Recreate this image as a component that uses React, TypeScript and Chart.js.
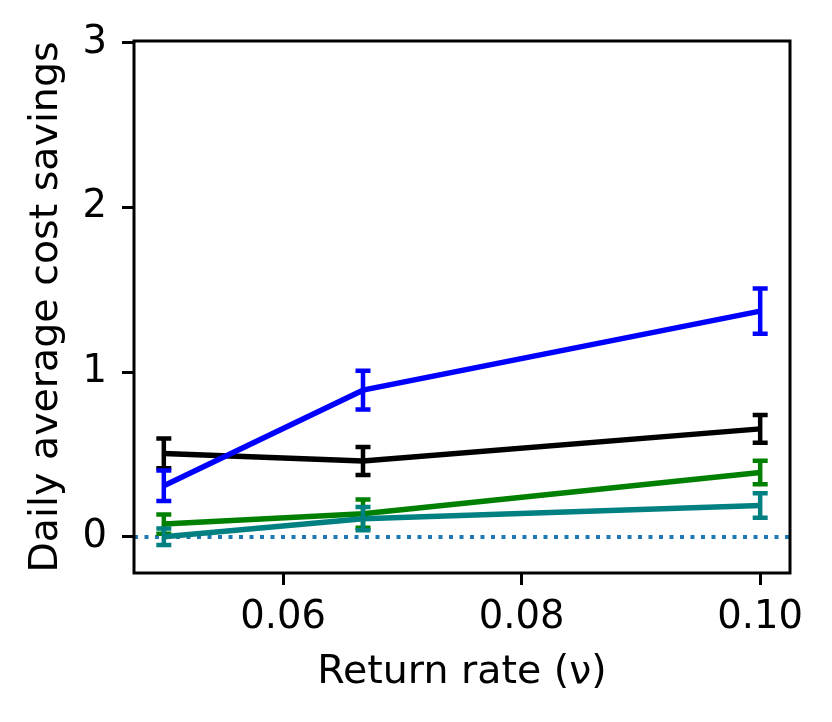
import { useEffect, useRef } from 'react';
import { Chart, ChartConfiguration, Plugin, registerables } from 'chart.js';

Chart.register(...registerables);

// return rates on the x axis
const RETURN_RATES = [0.05, 0.0667, 0.1];

// mean daily savings and error bar half-widths per policy
const BLUE_MEAN = [0.31, 0.89, 1.37];
const BLUE_ERR = [0.093, 0.118, 0.137];
const BLACK_MEAN = [0.506, 0.46, 0.655];
const BLACK_ERR = [0.09, 0.085, 0.084];
const GREEN_MEAN = [0.077, 0.14, 0.39];
const GREEN_ERR = [0.058, 0.086, 0.071];
const TEAL_MEAN = [0.0, 0.11, 0.19];
const TEAL_ERR = [0.05, 0.07, 0.074];

const X_TICKS = [0.06, 0.08, 0.1];
const Y_TICKS = [0, 1, 2, 3];
const BASELINE = 0;

const FONT = "'DejaVu Sans', sans-serif";
const TICK_SIZE = 38.5;
const TITLE_SIZE = 39.5;

const toPoints = (ys: number[]) => RETURN_RATES.map((x, i) => ({ x, y: ys[i] }));

// draws error bars after each line, so stacking follows the dataset order
const errorBars: Plugin = {
  id: 'errorBars',
  afterDatasetDraw(chart, args) {
    const ds: any = chart.data.datasets[args.index];
    if (!ds.errors) return;
    const { ctx } = chart;
    const xs = chart.scales.x;
    const ys = chart.scales.y;
    ctx.save();
    ctx.strokeStyle = ds.borderColor;
    ctx.lineWidth = 4.5;
    ds.data.forEach((p: any, i: number) => {
      const px = xs.getPixelForValue(p.x);
      const top = ys.getPixelForValue(p.y + ds.errors[i]);
      const bot = ys.getPixelForValue(p.y - ds.errors[i]);
      ctx.beginPath();
      ctx.moveTo(px, top);
      ctx.lineTo(px, bot);
      ctx.moveTo(px - 7.5, top);
      ctx.lineTo(px + 7.5, top);
      ctx.moveTo(px - 7.5, bot);
      ctx.lineTo(px + 7.5, bot);
      ctx.stroke();
    });
    ctx.restore();
  },
};

// dotted zero line under the data, and the full axes frame on top
const frame: Plugin = {
  id: 'frame',
  beforeDatasetsDraw(chart) {
    const { ctx, chartArea } = chart;
    const y0 = Math.round(chart.scales.y.getPixelForValue(BASELINE));
    ctx.save();
    ctx.strokeStyle = '#1f77b4';
    ctx.lineWidth = 4;
    ctx.setLineDash([4, 6.5]);
    ctx.beginPath();
    ctx.moveTo(chartArea.left, y0);
    ctx.lineTo(chartArea.right, y0);
    ctx.stroke();
    ctx.restore();
  },
  afterDatasetsDraw(chart) {
    const { ctx, chartArea } = chart;
    ctx.save();
    ctx.strokeStyle = '#000';
    ctx.lineWidth = 3;
    ctx.strokeRect(chartArea.left, chartArea.top, chartArea.right - chartArea.left, chartArea.bottom - chartArea.top);
    ctx.restore();
  },
};

export default function App() {
  const chartRef = useRef<HTMLCanvasElement>(null);
  const chartInstance = useRef<Chart | null>(null);

  useEffect(() => {
    document.body.style.margin = '0';
    if (!chartRef.current) return;
    const ctx = chartRef.current.getContext('2d');
    if (!ctx) return;
    if (chartInstance.current) chartInstance.current.destroy();

    const line = (data: number[], errors: number[], color: string, order: number) => ({
      data: toPoints(data),
      errors,
      borderColor: color,
      backgroundColor: color,
      borderWidth: 5.5,
      pointRadius: 0,
      tension: 0,
      fill: false,
      order,
    });

    const config: ChartConfiguration = {
      type: 'line',
      data: {
        datasets: [
          line(BLACK_MEAN, BLACK_ERR, '#000000', 4),
          line(BLUE_MEAN, BLUE_ERR, '#0000ff', 3),
          line(GREEN_MEAN, GREEN_ERR, '#008000', 2),
          line(TEAL_MEAN, TEAL_ERR, '#008080', 1),
        ] as any,
      },
      options: {
        responsive: false,
        animation: false,
        layout: { padding: { top: 41, right: 42, left: 0, bottom: 0 } },
        plugins: {
          legend: { display: false },
          tooltip: { enabled: false },
        },
        scales: {
          x: {
            type: 'linear',
            min: 0.0475,
            max: 0.1025,
            afterFit: (s: any) => { s.height = 149; },
            afterBuildTicks: (s: any) => { s.ticks = X_TICKS.map(v => ({ value: v })); },
            border: { display: false },
            grid: { drawOnChartArea: false, tickLength: 12, tickWidth: 3, tickColor: '#000' },
            ticks: {
              padding: 10,
              color: '#000',
              font: { family: FONT, size: TICK_SIZE },
              callback: (v: any) => Number(v).toFixed(2),
            },
            title: {
              display: true,
              text: 'Return rate (ν)',
              color: '#000',
              font: { family: FONT, size: TITLE_SIZE },
              padding: { top: 0, bottom: 26 },
            },
          },
          y: {
            type: 'linear',
            min: -0.22,
            max: 3.01,
            afterFit: (s: any) => { s.width = 134; },
            afterBuildTicks: (s: any) => { s.ticks = Y_TICKS.map(v => ({ value: v })); },
            border: { display: false },
            grid: { drawOnChartArea: false, tickLength: 12, tickWidth: 3, tickColor: '#000' },
            ticks: {
              padding: 15,
              color: '#000',
              font: { family: FONT, size: TICK_SIZE },
              callback: (v: any) => String(v),
            },
            title: {
              display: true,
              text: 'Daily average cost savings',
              color: '#000',
              font: { family: FONT, size: TITLE_SIZE },
              padding: { top: 23, bottom: 0 },
            },
          },
        },
      },
      plugins: [errorBars, frame],
    };

    chartInstance.current = new Chart(ctx, config);

    return () => {
      if (chartInstance.current) {
        chartInstance.current.destroy();
        chartInstance.current = null;
      }
    };
  }, []);

  return (
    <div style={{ width: 832, height: 722, background: '#fff' }}>
      <canvas ref={chartRef} width={832} height={722} />
    </div>
  );
}
